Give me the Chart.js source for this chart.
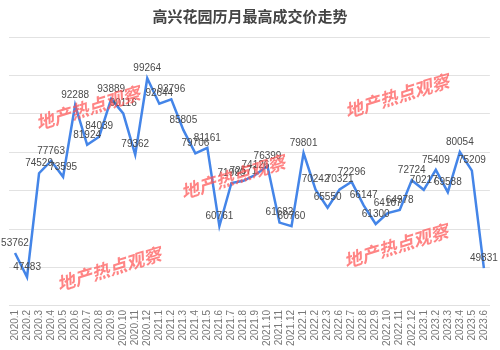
<!DOCTYPE html>
<html>
<head>
<meta charset="utf-8">
<script src="https://cdn.jsdelivr.net/npm/chart.js@4/dist/chart.umd.min.js"></script>
<style>
  html, body { margin: 0; padding: 0; background: #fff; }
  #wrap { width: 500px; height: 350px; }
</style>
</head>
<body>
<div id="wrap"><canvas id="c" width="500" height="350"></canvas></div>
<script>
// Monthly highest transaction price (元/㎡)
const months = [
  '2020.1','2020.2','2020.3','2020.4','2020.5','2020.6','2020.7','2020.8','2020.9','2020.10','2020.11','2020.12',
  '2021.1','2021.2','2021.3','2021.4','2021.5','2021.6','2021.7','2021.8','2021.9','2021.10','2021.11','2021.12',
  '2022.1','2022.2','2022.3','2022.6','2022.7','2022.8','2022.9','2022.10','2022.11','2022.12',
  '2023.1','2023.2','2023.3','2023.4','2023.5','2023.6'
];
const maxPrice = [
  53762, 47483, 74529, 77763, 73595, 92288, 81924, 84039, 93889, 90116, 79362, 99264,
  92644, 93796, 85805, 79706, 81161, 60761, 71990, 72571, 74126, 76399, 61682, 60760,
  79801, 70242, 65550, 70321, 72296, 66147, 61300, 64167, 64978, 72724,
  70217, 75409, 69588, 80054, 75209, 49831
];
const yTicks = { min: 40000, max: 110000, step: 10000 };

const chartTitle = '高兴花园历月最高成交价走势';
const stampText = '地产热点观察';

// value labels above each point
const valueLabels = {
  id: 'valueLabels',
  afterDatasetsDraw(chart) {
    const ctx = chart.ctx;
    const meta = chart.getDatasetMeta(0);
    ctx.save();
    ctx.font = '10px "Liberation Sans", Arial, sans-serif';
    ctx.fillStyle = '#4a4a4a';
    ctx.textAlign = 'center';
    ctx.textBaseline = 'bottom';
    meta.data.forEach((pt, i) => {
      ctx.fillText(String(chart.data.datasets[0].data[i]), pt.x, pt.y - 5);
    });
    ctx.restore();
  }
};

// red stamp text scattered over the plot
const stamps = {
  id: 'stamps',
  afterDraw(chart) {
    const ctx = chart.ctx;
    const spots = [[88, 108], [397, 96], [233, 177], [109, 269], [396, 246]];
    ctx.save();
    ctx.font = 'italic bold 18px "Noto Sans CJK SC", sans-serif';
    ctx.fillStyle = 'rgba(255, 85, 85, 0.72)';
    ctx.textAlign = 'center';
    ctx.textBaseline = 'middle';
    spots.forEach(([x, y]) => {
      ctx.save();
      ctx.translate(x, y);
      ctx.rotate(-17 * Math.PI / 180);
      ctx.fillText(stampText, 0, 0);
      ctx.restore();
    });
    ctx.restore();
  }
};

new Chart(document.getElementById('c'), {
  type: 'line',
  data: {
    labels: months,
    datasets: [{
      data: maxPrice,
      borderColor: '#4485e8',
      borderWidth: 2.5,
      pointRadius: 0,
      tension: 0,
      fill: false
    }]
  },
  options: {
    responsive: false,
    animation: false,
    devicePixelRatio: 1,
    layout: { padding: { left: 9, right: 9, top: 0, bottom: 0 } },
    plugins: {
      legend: { display: false },
      tooltip: { enabled: false },
      title: {
        display: true,
        text: chartTitle,
        color: '#444',
        font: { family: '"Noto Sans CJK SC", sans-serif', size: 15, weight: 'bold' },
        padding: { top: 7, bottom: 12 }
      }
    },
    scales: {
      x: {
        offset: true,
        grid: { display: false, drawTicks: false },
        border: { display: true, color: '#e0e0e0' },
        ticks: {
          autoSkip: false,
          maxRotation: 90,
          minRotation: 90,
          padding: 4,
          color: '#777',
          font: { family: '"Liberation Sans", Arial, sans-serif', size: 10 }
        }
      },
      y: {
        min: yTicks.min,
        max: yTicks.max,
        ticks: { display: false, stepSize: yTicks.step },
        grid: { color: '#e2e2e2', drawTicks: false },
        border: { display: false }
      }
    }
  },
  plugins: [valueLabels, stamps]
});
</script>
</body>
</html>
